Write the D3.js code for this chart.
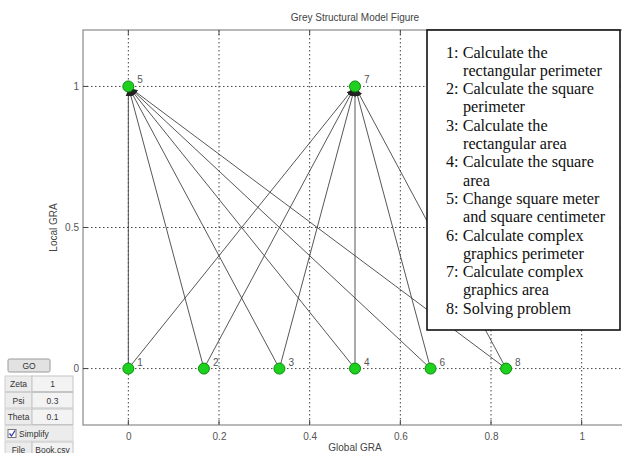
<!DOCTYPE html>
<html>
<head>
<meta charset="utf-8">
<script src="https://cdn.jsdelivr.net/npm/d3@7"></script>
<style>
  html, body { margin: 0; padding: 0; background: #fff; }
  svg { display: block; }
  .tick text { font-family: Arial, "Liberation Sans", sans-serif; font-size: 10px; fill: #555; }
</style>
</head>
<body>
<svg id="chart" width="622" height="453"></svg>
<script>
// Grey structural model: node positions (global GRA, local GRA)
const nodeIds   = [1, 2, 3, 4, 5, 6, 7, 8];
const globalGRA = [0, 0.1667, 0.3333, 0.5, 0, 0.6667, 0.5, 0.8333];
const localGRA  = [0, 0, 0, 0, 1, 0, 1, 0];

// Directed edges (source -> target)
const edgeSources = [1, 2, 3, 4, 6, 8, 1, 2, 3, 4, 6, 8];
const edgeTargets = [5, 5, 5, 5, 5, 5, 7, 7, 7, 7, 7, 7];

const xTicks = [0, 0.2, 0.4, 0.6, 0.8, 1];
const yTicks = [0, 0.5, 1];

const legendItems = [
  ["1: Calculate the", "rectangular perimeter"],
  ["2: Calculate the square", "perimeter"],
  ["3: Calculate the", "rectangular area"],
  ["4: Calculate the square", "area"],
  ["5: Change square meter", "and square centimeter"],
  ["6: Calculate complex", "graphics perimeter"],
  ["7: Calculate complex", "graphics area"],
  ["8: Solving problem"]
];

const params = [["Zeta", "1"], ["Psi", "0.3"], ["Theta", "0.1"]];

const svg = d3.select("#chart");
const plot = { left: 83, top: 30, right: 627, bottom: 425 };

const x = d3.scaleLinear().domain([-0.1, 1.1]).range([plot.left, plot.right]);
const y = d3.scaleLinear().domain([-0.2, 1.2]).range([plot.bottom, plot.top]);

const axisColor = "#8a8a8a";
const sans = "Arial, 'Liberation Sans', sans-serif";

// grid
const grid = svg.append("g");
grid.selectAll(".gx").data(xTicks).join("line")
  .attr("x1", d => x(d)).attr("x2", d => x(d))
  .attr("y1", plot.top).attr("y2", plot.bottom)
  .attr("stroke", "#444").attr("stroke-width", 1).attr("stroke-dasharray", "1.5,2.5");
grid.selectAll(".gy").data(yTicks).join("line")
  .attr("x1", plot.left).attr("x2", plot.right)
  .attr("y1", d => y(d)).attr("y2", d => y(d))
  .attr("stroke", "#444").attr("stroke-width", 1).attr("stroke-dasharray", "1.5,2.5");

// axes
const xAxis = d3.axisBottom(x).tickValues(xTicks).tickSize(0).tickPadding(8).tickFormat(d3.format("~g"));
const yAxis = d3.axisLeft(y).tickValues(yTicks).tickSize(0).tickPadding(4).tickFormat(d3.format("~g"));
const gx = svg.append("g").attr("transform", `translate(0,${plot.bottom})`).call(xAxis);
const gy = svg.append("g").attr("transform", `translate(${plot.left},0)`).call(yAxis);
[gx, gy].forEach(g => g.select(".domain").remove());

// frame
svg.append("rect")
  .attr("x", plot.left).attr("y", plot.top)
  .attr("width", plot.right - plot.left).attr("height", plot.bottom - plot.top)
  .attr("fill", "none").attr("stroke", axisColor).attr("stroke-width", 1.2);

// inner tick marks
const tks = svg.append("g").attr("stroke", "#444").attr("stroke-width", 1);
xTicks.forEach(t => {
  tks.append("line").attr("x1", x(t)).attr("x2", x(t)).attr("y1", plot.top).attr("y2", plot.top + 5);
  tks.append("line").attr("x1", x(t)).attr("x2", x(t)).attr("y1", plot.bottom).attr("y2", plot.bottom - 5);
});
yTicks.forEach(t => {
  tks.append("line").attr("x1", plot.left).attr("x2", plot.left + 5).attr("y1", y(t)).attr("y2", y(t));
});

// titles
svg.append("text").attr("x", x(0.5)).attr("y", 21).attr("text-anchor", "middle")
  .attr("font-family", sans).attr("font-size", 10).attr("fill", "#444")
  .text("Grey Structural Model Figure");
svg.append("text").attr("x", x(0.5)).attr("y", 451).attr("text-anchor", "middle")
  .attr("font-family", sans).attr("font-size", 10).attr("fill", "#444")
  .text("Global GRA");
svg.append("text").attr("transform", `translate(57,${y(0.5)}) rotate(-90)`).attr("text-anchor", "middle")
  .attr("font-family", sans).attr("font-size", 10).attr("fill", "#444")
  .text("Local GRA");

// arrow marker
svg.append("defs").append("marker")
  .attr("id", "arrow").attr("viewBox", "0 0 10 10")
  .attr("refX", 10).attr("refY", 5)
  .attr("markerWidth", 7).attr("markerHeight", 7)
  .attr("markerUnits", "userSpaceOnUse")
  .attr("orient", "auto")
  .append("path").attr("d", "M0,1 L10,5 L0,9 Z").attr("fill", "#222");

const nodes = nodeIds.map((id, i) => ({ id, gx: globalGRA[i], ly: localGRA[i] }));
const byId = new Map(nodes.map(n => [n.id, n]));
const edges = edgeSources.map((s, i) => ({ s: byId.get(edgeSources[i]), t: byId.get(edgeTargets[i]) }));

// edges, stopping just short of the target node centre
const endPoint = d => {
  const dx = x(d.t.gx) - x(d.s.gx), dy = y(d.t.ly) - y(d.s.ly), L = Math.hypot(dx, dy);
  return [x(d.t.gx) - dx / L * 3, y(d.t.ly) - dy / L * 3];
};
svg.append("g").selectAll("line").data(edges).join("line")
  .attr("x1", d => x(d.s.gx)).attr("y1", d => y(d.s.ly))
  .attr("x2", d => endPoint(d)[0])
  .attr("y2", d => endPoint(d)[1])
  .attr("stroke", "#444").attr("stroke-width", 0.9)
  .attr("marker-end", "url(#arrow)");

// nodes
svg.append("g").selectAll("circle").data(nodes).join("circle")
  .attr("cx", d => x(d.gx)).attr("cy", d => y(d.ly)).attr("r", 5.5)
  .attr("fill", "#1fd11f").attr("stroke", "#0a8a0a").attr("stroke-width", 1);

svg.append("g").selectAll("text").data(nodes).join("text")
  .attr("x", d => x(d.gx) + 9).attr("y", d => y(d.ly) - 3)
  .attr("font-family", sans).attr("font-size", 10).attr("fill", "#555")
  .text(d => d.id);

// legend box
const lg = svg.append("g");
const lgBox = { x: 427, y: 30, w: 193, h: 300 };
lg.append("rect").attr("x", lgBox.x).attr("y", lgBox.y).attr("width", lgBox.w).attr("height", lgBox.h)
  .attr("fill", "#fff").attr("stroke", "#111").attr("stroke-width", 1.6);
let line = 0;
const lh = 18.3;
legendItems.forEach(item => {
  item.forEach((txt, k) => {
    lg.append("text")
      .attr("x", k === 0 ? 446 : 463)
      .attr("y", 57.5 + line * lh)
      .attr("font-family", "'Liberation Serif', 'Times New Roman', serif")
      .attr("font-size", 16.2).attr("fill", "#111")
      .text(txt);
    line++;
  });
});

// control panel
const ui = svg.append("g").attr("font-family", sans).attr("font-size", 8.5).attr("fill", "#333");
ui.append("rect").attr("x", 8).attr("y", 359).attr("width", 42).attr("height", 13)
  .attr("fill", "#e2e2e2").attr("stroke", "#9a9a9a").attr("rx", 1.5);
ui.append("text").attr("x", 29).attr("y", 369).attr("text-anchor", "middle").text("GO");

params.forEach((p, i) => {
  const top = 376 + i * 16.5;
  ui.append("rect").attr("x", 5).attr("y", top).attr("width", 27).attr("height", 15.5)
    .attr("fill", "#ececec").attr("stroke", "#d0d0d0");
  ui.append("rect").attr("x", 32).attr("y", top).attr("width", 41).attr("height", 15.5)
    .attr("fill", "#f3f3f3").attr("stroke", "#c4c4c4");
  ui.append("text").attr("x", 18.5).attr("y", top + 11).attr("text-anchor", "middle").text(p[0]);
  ui.append("text").attr("x", 52.5).attr("y", top + 11).attr("text-anchor", "middle").text(p[1]);
});

const cbTop = 376 + 3 * 16.5;
ui.append("rect").attr("x", 5).attr("y", cbTop).attr("width", 68).attr("height", 15.5)
  .attr("fill", "#ececec").attr("stroke", "#d8d8d8");
ui.append("rect").attr("x", 8).attr("y", cbTop + 4).attr("width", 8).attr("height", 8)
  .attr("fill", "#fff").attr("stroke", "#777");
ui.append("path").attr("d", `M9.5,${cbTop + 8} L11.5,${cbTop + 10.5} L15,${cbTop + 5}`)
  .attr("fill", "none").attr("stroke", "#3b3bb0").attr("stroke-width", 1.3);
ui.append("text").attr("x", 19).attr("y", cbTop + 11).text("Simplify");

const fTop = 376 + 4 * 16.5;
ui.append("rect").attr("x", 5).attr("y", fTop).attr("width", 27).attr("height", 14)
  .attr("fill", "#ececec").attr("stroke", "#d0d0d0");
ui.append("rect").attr("x", 32).attr("y", fTop).attr("width", 41).attr("height", 14)
  .attr("fill", "#f3f3f3").attr("stroke", "#c4c4c4");
ui.append("text").attr("x", 18.5).attr("y", fTop + 10.5).attr("text-anchor", "middle").text("File");
ui.append("text").attr("x", 52.5).attr("y", fTop + 10.5).attr("text-anchor", "middle").text("Book.csv");
</script>
</body>
</html>
